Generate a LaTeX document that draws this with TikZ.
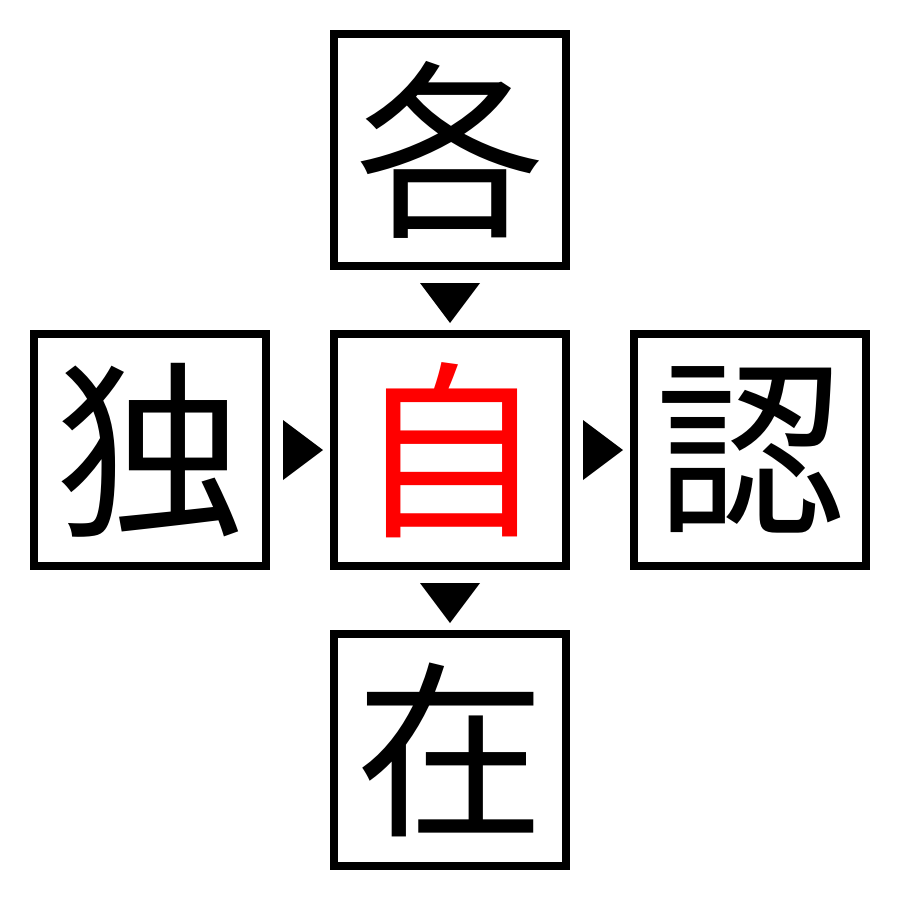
\documentclass[tikz,border=0pt]{standalone}
\usepackage{fontspec}
\newfontfamily\cjk{Noto Sans CJK JP}
\begin{document}
\begin{tikzpicture}[x=1pt,y=-1pt,
  box/.style={draw=black,line width=8pt,minimum size=232pt,inner sep=0pt,font=\cjk\fontsize{190}{190}\selectfont},
  tri/.style={fill=black}]
\useasboundingbox (0,0) rectangle (900,900);
\node[box] (top) at (450,150) {各};
\node[box,text=red] (mid) at (450,450) {自};
\node[box] (left) at (150,450) {独};
\node[box] (right) at (750,450) {認};
\node[box] (bot) at (450,750) {在};
\fill[tri] (420,283) -- (480,283) -- (450,323) -- cycle;
\fill[tri] (420,583) -- (480,583) -- (450,623) -- cycle;
\fill[tri] (283,420) -- (283,480) -- (323,450) -- cycle;
\fill[tri] (583,420) -- (583,480) -- (623,450) -- cycle;
\end{tikzpicture}
\end{document}
